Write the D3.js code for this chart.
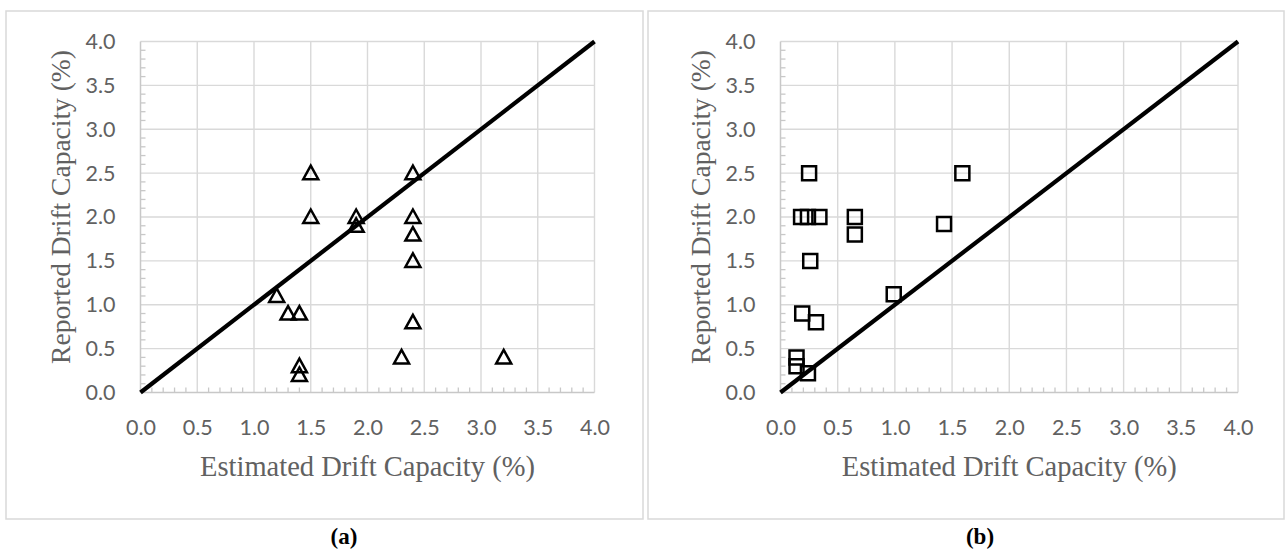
<!DOCTYPE html>
<html>
<head>
<meta charset="utf-8">
<script src="https://cdn.jsdelivr.net/npm/d3@7"></script>
<style>
  body { margin: 0; background: #fff; }
</style>
</head>
<body>
<svg id="chart"></svg>
<script>
// Tick values (both panels use the same axes)
const majorTicks = [0, 0.5, 1, 1.5, 2, 2.5, 3, 3.5, 4];
const minorTicks = [0.1, 0.2, 0.3, 0.4, 0.6, 0.7, 0.8, 0.9, 1.1, 1.2, 1.3, 1.4, 1.6, 1.7, 1.8, 1.9,
                    2.1, 2.2, 2.3, 2.4, 2.6, 2.7, 2.8, 2.9, 3.1, 3.2, 3.3, 3.4, 3.6, 3.7, 3.8, 3.9];
const diagonal = [0, 4];

// Panel (a) - triangles
const estimatedA = [1.5, 1.5, 1.9, 1.9, 2.4, 2.4, 2.4, 2.4, 2.4, 2.3, 1.2, 1.3, 1.4, 1.4, 1.4, 3.2];
const reportedA  = [2.5, 2.0, 2.0, 1.9, 2.5, 2.0, 1.8, 1.5, 0.8, 0.4, 1.1, 0.9, 0.9, 0.3, 0.2, 0.4];

// Panel (b) - squares
const estimatedB = [0.25, 0.18, 0.24, 0.34, 0.65, 0.65, 0.26, 0.19, 0.31, 0.14, 0.14, 0.24, 0.99, 1.59, 1.43];
const reportedB  = [2.5, 2.0, 2.0, 2.0, 2.0, 1.8, 1.5, 0.9, 0.8, 0.4, 0.3, 0.22, 1.12, 2.5, 1.92];

const xTitle = "Estimated Drift Capacity (%)";
const yTitle = "Reported Drift Capacity (%)";

const W = 1285, H = 550;
const svg = d3.select("#chart").attr("width", W).attr("height", H);

const gridColor = "#d9d9d9";
const textColor = "#616161";

// shared vertical scale
const y = d3.scaleLinear().domain([0, 4]).range([392.5, 41.5]);

function drawPanel(opts) {
  const x = d3.scaleLinear().domain([0, 4]).range([opts.left, opts.right]);
  const g = svg.append("g");

  // outer frame
  g.append("rect")
    .attr("x", opts.box[0]).attr("y", opts.box[1])
    .attr("width", opts.box[2]).attr("height", opts.box[3])
    .attr("fill", "none").attr("stroke", gridColor).attr("stroke-width", 1.5);

  // gridlines
  g.selectAll(".vgrid").data(majorTicks.slice(1)).enter().append("line")
    .attr("x1", d => x(d)).attr("x2", d => x(d))
    .attr("y1", y(0)).attr("y2", y(4))
    .attr("stroke", gridColor).attr("stroke-width", 1.4);
  g.selectAll(".hgrid").data(majorTicks.slice(1)).enter().append("line")
    .attr("x1", x(0)).attr("x2", x(4))
    .attr("y1", d => y(d)).attr("y2", d => y(d))
    .attr("stroke", gridColor).attr("stroke-width", 1.4);

  // axis lines and minor ticks
  g.append("line").attr("x1", x(0)).attr("x2", x(4)).attr("y1", y(0)).attr("y2", y(0))
    .attr("stroke", "#c8c8c8").attr("stroke-width", 1.5);
  g.append("line").attr("x1", x(0)).attr("x2", x(0)).attr("y1", y(0)).attr("y2", y(4))
    .attr("stroke", "#c8c8c8").attr("stroke-width", 1.5);
  g.selectAll(".xminor").data(minorTicks).enter().append("line")
    .attr("x1", d => x(d)).attr("x2", d => x(d))
    .attr("y1", y(0)).attr("y2", y(0) - 5)
    .attr("stroke", "#c8c8c8").attr("stroke-width", 1.3);
  g.selectAll(".yminor").data(minorTicks).enter().append("line")
    .attr("x1", x(0)).attr("x2", x(0) + 5)
    .attr("y1", d => y(d)).attr("y2", d => y(d))
    .attr("stroke", "#c8c8c8").attr("stroke-width", 1.3);

  // tick labels
  const xAxis = g.append("g")
    .attr("transform", "translate(0," + y(0) + ")")
    .call(d3.axisBottom(x).tickValues(majorTicks).tickFormat(d3.format(".1f")).tickSize(0).tickPadding(27));
  const yAxis = g.append("g")
    .attr("transform", "translate(" + x(0) + ",0)")
    .call(d3.axisLeft(y).tickValues(majorTicks).tickFormat(d3.format(".1f")).tickSize(0).tickPadding(25));
  [xAxis, yAxis].forEach(a => {
    a.select(".domain").remove();
    a.selectAll("text")
      .attr("fill", textColor)
      .style("font-family", "Lato, 'Open Sans', sans-serif")
      .style("font-size", "21.5px");
  });

  // axis titles
  g.append("text")
    .attr("x", (x(0) + x(4)) / 2).attr("y", 476)
    .attr("text-anchor", "middle")
    .attr("fill", textColor)
    .style("font-family", "'Liberation Serif', 'Times New Roman', serif")
    .style("font-size", "28.5px")
    .text(xTitle);
  g.append("text")
    .attr("transform", "translate(" + (x(0) - 79) + ",207) rotate(-90)")
    .attr("dy", "0.32em")
    .attr("text-anchor", "middle")
    .attr("fill", textColor)
    .style("font-family", "'Liberation Serif', 'Times New Roman', serif")
    .style("font-size", "27.5px")
    .text(yTitle);

  // 1:1 line
  g.append("line")
    .attr("x1", x(diagonal[0])).attr("y1", y(diagonal[0]))
    .attr("x2", x(diagonal[1])).attr("y2", y(diagonal[1]))
    .attr("stroke", "#000").attr("stroke-width", 4.2);

  // markers
  const pts = opts.xs.map((v, i) => ({x: v, y: opts.ys[i]}));
  g.selectAll(".dot").data(pts).enter().append("path")
    .attr("transform", d => "translate(" + x(d.x) + "," + y(d.y) + ")")
    .attr("d", opts.shape)
    .attr("fill", "none")
    .attr("stroke", "#000")
    .attr("stroke-width", 2.5);

  // panel label
  svg.append("text")
    .attr("x", opts.labelX).attr("y", 544)
    .attr("text-anchor", "middle")
    .attr("fill", "#000")
    .style("font-family", "'Liberation Serif', 'Times New Roman', serif")
    .style("font-weight", "bold")
    .style("font-size", "23px")
    .text(opts.label);
}

const triangle = "M0,-7.5 L7.5,6 L-7.5,6 Z";
const square = "M-7,-7 H7 V7 H-7 Z";

drawPanel({left: 140.5, right: 594.5, box: [6, 11, 637, 508], xs: estimatedA, ys: reportedA,
           shape: triangle, label: "(a)", labelX: 344});
drawPanel({left: 780.5, right: 1238, box: [648, 11, 636, 508], xs: estimatedB, ys: reportedB,
           shape: square, label: "(b)", labelX: 980});
</script>
</body>
</html>
